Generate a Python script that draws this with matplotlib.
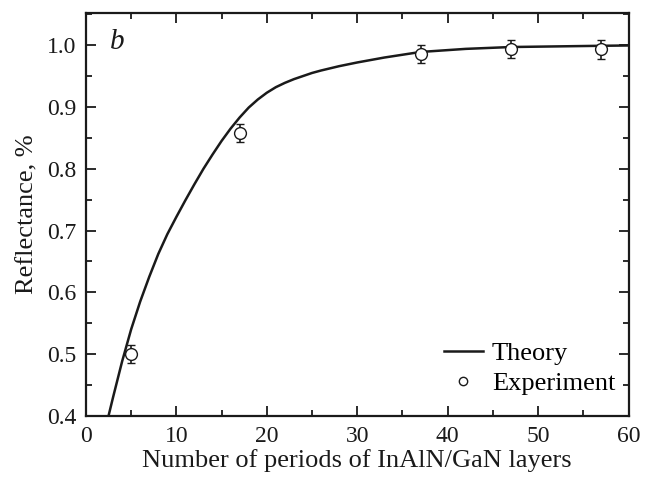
import matplotlib
matplotlib.use("Agg")
import matplotlib.pyplot as plt
from matplotlib.ticker import MultipleLocator
from matplotlib.lines import Line2D

theory_n = [2.4, 3, 4, 5, 6, 7, 8, 9, 10, 11, 12, 13, 14, 15, 16, 17, 18, 19, 20,
            21, 22, 23, 24, 25, 26, 28, 30, 33, 37, 42, 47, 52, 57, 60]
theory_r = [0.394, 0.430, 0.488, 0.540, 0.585, 0.625, 0.662, 0.694, 0.722, 0.749, 0.775,
            0.800, 0.823, 0.845, 0.865, 0.883, 0.899, 0.912, 0.923, 0.932, 0.939, 0.945,
            0.950, 0.955, 0.959, 0.966, 0.972, 0.980, 0.989, 0.994, 0.997, 0.998, 0.999,
            0.9995]

exp_n = [5, 17, 37, 47, 57]
exp_r = [0.500, 0.858, 0.986, 0.994, 0.993]
exp_err = [0.015, 0.015, 0.015, 0.015, 0.015]

plt.rcParams['font.family'] = ['Liberation Serif', 'DejaVu Serif']

INK = '#1a1a1a'
fig = plt.figure(figsize=(6.46, 4.83), dpi=100)
ax = fig.add_axes([0.133, 0.139, 0.840, 0.834])

ax.plot(theory_n, theory_r, color=INK, lw=1.8, label='Theory', solid_joinstyle='round')
ax.errorbar(exp_n, exp_r, yerr=exp_err, fmt='o', mfc='white', mec=INK,
            ecolor=INK, mew=1.0, ms=8.5, capsize=3.2, capthick=2.4, elinewidth=1.2,
            label='Experiment', zorder=3)

ax.set_xlim(0, 60)
ax.set_ylim(0.4, 1.052)
ax.xaxis.set_major_locator(MultipleLocator(10))
ax.xaxis.set_minor_locator(MultipleLocator(5))
ax.yaxis.set_major_locator(MultipleLocator(0.1))
ax.yaxis.set_minor_locator(MultipleLocator(0.05))
ax.yaxis.set_major_formatter(plt.FuncFormatter(lambda v, p: f"{v:.1f}"))
ax.tick_params(which='both', direction='in', top=True, right=True, width=1.3,
               labelsize=17, colors=INK)
ax.tick_params(axis='x', which='major', pad=7)
ax.tick_params(axis='y', which='major', pad=7)
ax.tick_params(which='major', length=7)
ax.tick_params(which='minor', length=4)
for s in ax.spines.values():
    s.set_linewidth(1.6)
    s.set_color(INK)

ax.set_xlabel('Number of periods of InAlN/GaN layers', fontsize=19, color=INK, labelpad=2)
ax.set_ylabel('Reflectance, %', fontsize=19, color=INK, labelpad=6)
ax.text(0.045, 0.96, 'b', transform=ax.transAxes, fontsize=21, style='italic',
        va='top', ha='left', color=INK)

h2 = [Line2D([], [], color=INK, lw=1.8),
      Line2D([], [], ls='none', marker='o', mfc='white', mec=INK, ms=6, mew=1.0)]
ax.legend(h2, ['Theory', 'Experiment'], loc='lower right', frameon=False, fontsize=19,
          bbox_to_anchor=(0.985, 0.038), handlelength=1.45, handletextpad=0.35,
          labelspacing=0.25, borderpad=0.2, borderaxespad=0.0)

fig.savefig('out.png', dpi=100)
